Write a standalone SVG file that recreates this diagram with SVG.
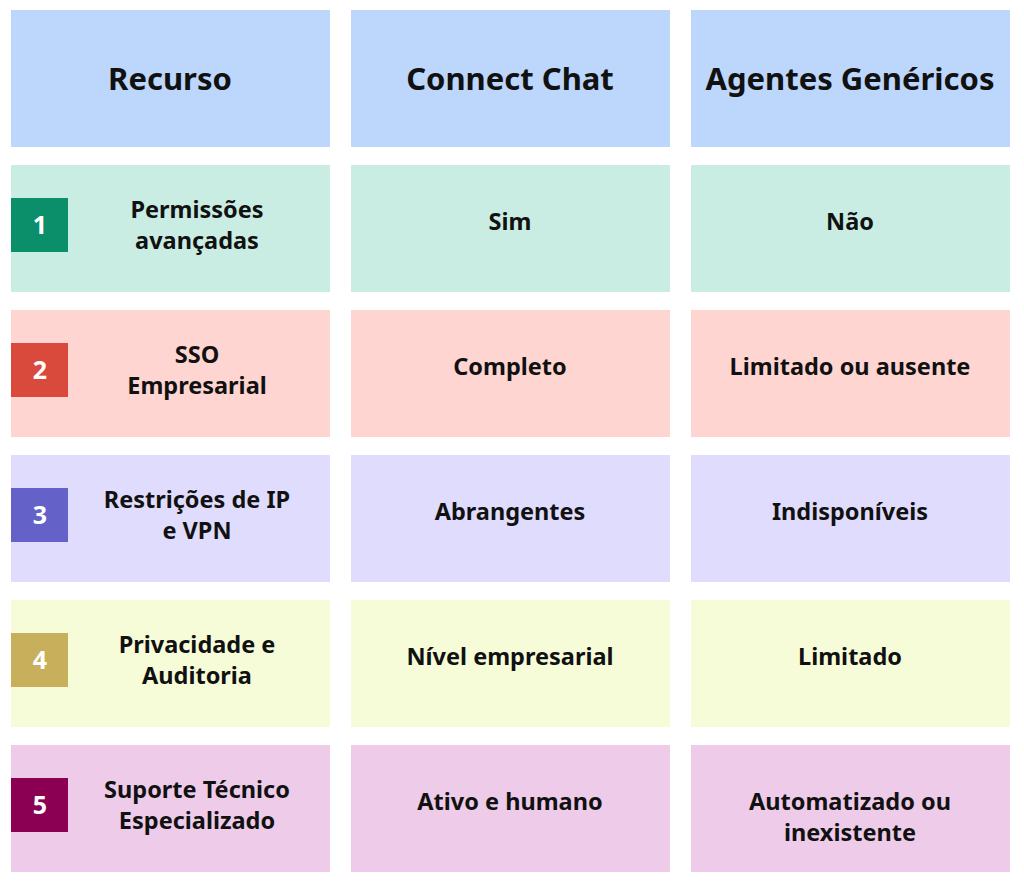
<svg xmlns="http://www.w3.org/2000/svg" width="1024" height="887" viewBox="0 0 1024 887">
<style>
text{font-family:"Noto Sans","Liberation Sans",sans-serif;font-weight:700;fill:#111;text-anchor:middle}
.h{font-size:31px}
.b{font-size:23.5px}
.n{font-size:25px;fill:#fff}
.hd{fill:#bcd6fc}
.r1{fill:#c9ede3}.r2{fill:#fed5d1}.r3{fill:#e0dcfd}.r4{fill:#f6fcd8}.r5{fill:#edcbe9}
</style>
<rect width="1024" height="887" fill="#fff"/>
<g id="header">
<rect class="hd" x="11" y="10" width="319" height="137"/><text class="h" x="170" y="90">Recurso</text>
<rect class="hd" x="351" y="10" width="319" height="137"/><text class="h" x="510" y="90">Connect Chat</text>
<rect class="hd" x="691" y="10" width="319" height="137"/><text class="h" x="850" y="90">Agentes Genéricos</text>
</g>
<g id="row1">
<rect class="r1" x="11" y="165" width="319" height="127"/><rect x="11" y="198" width="57" height="54" fill="#0b8f6b"/><text class="n" x="40" y="234">1</text>
<text class="b" x="197" y="218">Permissões</text><text class="b" x="197" y="249">avançadas</text>
<rect class="r1" x="351" y="165" width="319" height="127"/><text class="b" x="510" y="230">Sim</text>
<rect class="r1" x="691" y="165" width="319" height="127"/><text class="b" x="850" y="230">Não</text>
</g>
<g id="row2">
<rect class="r2" x="11" y="310" width="319" height="127"/><rect x="11" y="343" width="57" height="54" fill="#da4a3c"/><text class="n" x="40" y="379">2</text>
<text class="b" x="197" y="363">SSO</text><text class="b" x="197" y="394">Empresarial</text>
<rect class="r2" x="351" y="310" width="319" height="127"/><text class="b" x="510" y="375">Completo</text>
<rect class="r2" x="691" y="310" width="319" height="127"/><text class="b" x="850" y="375">Limitado ou ausente</text>
</g>
<g id="row3">
<rect class="r3" x="11" y="455" width="319" height="127"/><rect x="11" y="488" width="57" height="54" fill="#6462c9"/><text class="n" x="40" y="524">3</text>
<text class="b" x="197" y="508">Restrições de IP</text><text class="b" x="197" y="539">e VPN</text>
<rect class="r3" x="351" y="455" width="319" height="127"/><text class="b" x="510" y="520">Abrangentes</text>
<rect class="r3" x="691" y="455" width="319" height="127"/><text class="b" x="850" y="520">Indisponíveis</text>
</g>
<g id="row4">
<rect class="r4" x="11" y="600" width="319" height="127"/><rect x="11" y="633" width="57" height="54" fill="#c8af5c"/><text class="n" x="40" y="669">4</text>
<text class="b" x="197" y="653">Privacidade e</text><text class="b" x="197" y="684">Auditoria</text>
<rect class="r4" x="351" y="600" width="319" height="127"/><text class="b" x="510" y="665">Nível empresarial</text>
<rect class="r4" x="691" y="600" width="319" height="127"/><text class="b" x="850" y="665">Limitado</text>
</g>
<g id="row5">
<rect class="r5" x="11" y="745" width="319" height="127"/><rect x="11" y="778" width="57" height="54" fill="#8b0053"/><text class="n" x="40" y="814">5</text>
<text class="b" x="197" y="798">Suporte Técnico</text><text class="b" x="197" y="829">Especializado</text>
<rect class="r5" x="351" y="745" width="319" height="127"/><text class="b" x="510" y="810">Ativo e humano</text>
<rect class="r5" x="691" y="745" width="319" height="127"/><text class="b" x="850" y="810">Automatizado ou</text><text class="b" x="850" y="841">inexistente</text>
</g>
<g id="connectors"/>
</svg>
